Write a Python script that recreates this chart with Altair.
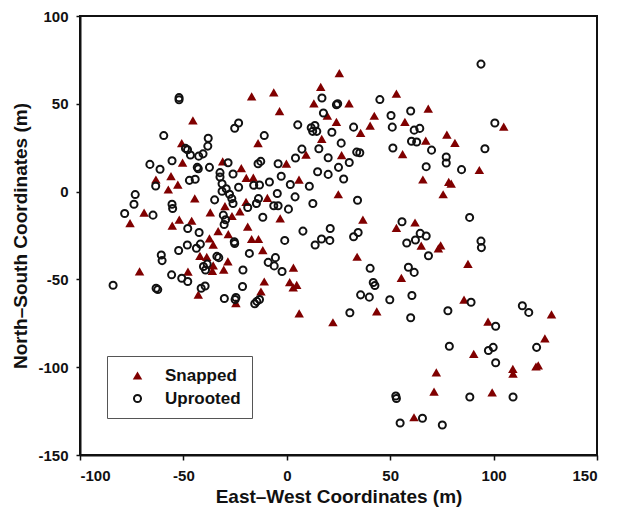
import altair as alt
import pandas as pd

categories = ["Snapped", "Uprooted"]

snapped_x = [25.4, 16.4, -6.3, -17, 53, 13.1, 30.1, 68.4, -3.5, -45.4, 19.6, 24, 42.3, 40.3, 57.1,
             104.9, 35.7, 77.4, -50.8, -13.9, 16.9, 81.3, 67.2, 9.3, 26.5, 56, -50.4, -31, -22, -0.2,
             93.1, -56, -63.3, -52.7, -57.3, -19.6, -16.2, 5.9, 65.8, 78.3, 79.5, 75.6, 24.9, -44.5, -9.4,
             -19.7, -29.9, -69, -75.8, -55.4, -52, -46, -37, -22.7, -26.5, -3.2, 36.8, 53, 62, -18.9,
             -33.2, -17, -13.7, -37.4, -35.6, -28.3, -11.6, 65, 74.4, 73.3, 34, -42, -38.7, -28.5, -35.6,
             -30.5, -36, -71.2, -47.8, 3.2, 87.6, -10.9, 1.4, 3.1, 4.8, 55.4, -12.5, -42.8, -24.6, 6,
             43.5, 85.7, 22.3, 128, 97.3, 124.8, 90.4, 72.3, 109.3, 109.4, 120.5, 121.6, 71.2, 99.3, 61.5]
snapped_y = [67.5, 59.6, 56.5, 54.2, 55.8, 50.2, 50.2, 47.3, 45.8, 40.6, 43.3, 39.7, 43.2, 37.6, 39.7,
             37, 33.5, 32.5, 27.6, 27.6, 30, 27.8, 29, 21, 20.8, 21.3, 16.5, 17.2, 13.4, 15.9,
             12.3, 8.8, 6.9, 4, 1.2, 7.8, 8, 6.8, 6.9, 5.5, 4.5, -1.5, -1.5, -3.8, -3.6,
             -5.9, -8.3, -12, -18, -19.4, -16, -16.6, -11.8, -11.3, -13.9, -15.3, -16, -20.6, -17.6, -20,
             -22.5, -27, -27, -26.6, -30.2, -24.2, -33.3, -30.8, -30.6, -32.3, -37.1, -36.6, -37.2, -39.7, -42,
             -44.4, -45.2, -45.4, -45.6, -43.3, -41.1, -51.2, -51.6, -54.6, -53.1, -49.1, -56.9, -58.7, -63.5, -69.4,
             -68.2, -61.5, -74.4, -69.9, -74, -83.6, -92.4, -103, -101, -103.6, -99.6, -99, -113.9, -114.3, -128.5]

uprooted_x = [93.9, -52.1, -52.1, 17, 45, 24, 24.6, 50.4, 59.9, 17.7, 100.6, -23.3, -25.2, 5.3, 11.8,
              13.6, 14.5, 12.5, 21.8, 32.3, 51, 61.6, 64.3, -59.5, -38, -38.2, -10.9, 26.3, 60.3, 62.8,
              95.8, -49, -48, -46.6, -40.5, -42.6, 7.3, 15.5, 51.3, 70, 33.8, 35.3, -55.5, -66.2, -61.3,
              -43.3, -42.8, -37.4, -28.4, -13.9, -12.6, -4.2, 4.2, 20, 25, 30.2, 67.4, 77.1, 77.1, 84.5,
              14.9, 20, 27.5, -47.1, -44.3, -32.3, -32.3, -26, -23.3, -16, -13.2, -8.4, -2.7, 1.7, 10.9,
              -63.4, -31.3, -31.3, -29.3, -27.7, -26.6, -26, -73.3, -73.9, -78.4, -64.7, -55.5, -55.2, -34.9, -13.7,
              -14.7, -18.9, -11.6, -6.3, -4.2, -4.6, 0.8, 4, 12.6, 34.2, -30.7, -29.6, -30.3, -47.9, -42.4,
              -48.1, -41.8, -43.7, -25.4, -25.2, -1, 7.8, 21, 20.8, 16.8, 13.7, 32.3, 34.5, 55.7, 58,
              62.2, 64.5, 67.4, 68.5, 88.4, 93.9, 94.1, -52.3, -60.7, -60.3, -33.8, -32.9, -18.1, -5.5, -6.1,
              -9, -2.3, -21.2, -40.3, -39.3, -38.5, -55.7, -50.8, -47.9, -84, -63.2, -62.4, -41.4, -39.5, -21.4,
              40.3, 41.8, 42.6, 58.8, 61.6, 35.7, 39.9, 49.8, 60.5, -30.2, -24.6, -25, -15.5, -14.5, -13.2,
              30.5, 59.9, 89.1, 77.9, 113.9, 117, 101, 78.6, 97.5, 99.8, 120.8, 101, 52.7, 53, 88.5,
              109.4, 54.8, 65.6, 75.2]
uprooted_y = [72.6, 53.5, 52.3, 53.3, 52.4, 49.5, 50, 43.3, 45.9, 44.8, 39.1, 39.1, 36.1, 38, 36.4,
              37.6, 34.3, 34.3, 33.8, 36.7, 36.7, 35, 36, 31.9, 30.4, 25.9, 31.9, 27.6, 28.7, 28.2,
              24.4, 24.6, 23.8, 20.8, 21.5, 20.2, 24.2, 24.4, 24.8, 23.6, 22.5, 22.1, 17.6, 15.5, 12.7,
              13.8, 13, 13.8, 16.4, 15.9, 17.2, 15.9, 19.1, 19.3, 13.8, 16.6, 14.2, 19.7, 16.3, 12.5,
              11.3, 9.8, 7.2, 6.4, 7, 10.8, 8.3, 10, 2.5, 3.6, 3.8, 5.5, 8.7, 4, 3,
              3.2, 4.5, 0.2, 1.6, -1.5, -4, -6.8, -1.7, -7.2, -12.5, -13.4, -7.2, -9.6, -4.7, -4,
              -6.8, -9.1, -14.6, -8.1, -8.1, -1.1, -10, -3, -6.8, -4.9, -13.4, -16, -18.7, -21, -23.3,
              -30.4, -29.9, -32.3, -28.6, -29.6, -27.8, -22.5, -21, -27.8, -27, -30.4, -25.7, -23.3, -17.2, -29.3,
              -27.6, -23.8, -25.3, -36.5, -14.7, -28.2, -31.9, -33.5, -36.1, -39.3, -36.9, -37.6, -35.2, -37.6, -42.3,
              -40.3, -45.5, -44.6, -42.7, -44.6, -41.3, -47.4, -49.3, -51.2, -53.3, -55, -55.8, -55, -53.8, -54,
              -43.7, -51.8, -53.5, -43.1, -46, -58.8, -60.1, -61.6, -59.2, -60.9, -60.3, -61.5, -63.9, -62.5, -61.4,
              -69, -71.8, -63, -67.9, -65, -68.8, -76.7, -88.1, -90.5, -88.7, -88.7, -97.5, -116.4, -117.8, -117,
              -117, -131.8, -129.1, -132.9]

x_ticks = [-100, -50, 0, 50, 100, 150]
y_ticks = [-150, -100, -50, 0, 50, 100]

df = pd.DataFrame({
    "x": snapped_x + uprooted_x,
    "y": snapped_y + uprooted_y,
    "type": [categories[0]] * len(snapped_x) + [categories[1]] * len(uprooted_x),
})

FONT = "Liberation Sans"
HYPHEN_LABEL = "replace(datum.label, '\u2212', '-')"

chart = alt.Chart(df).mark_point(strokeWidth=2, opacity=1).encode(
    x=alt.X("x:Q",
            scale=alt.Scale(domain=[-100, 150], nice=False, zero=False),
            axis=alt.Axis(values=x_ticks, title="East–West Coordinates (m)", labelExpr=HYPHEN_LABEL,
                          labelPadding=8, titlePadding=4, tickSize=5)),
    y=alt.Y("y:Q",
            scale=alt.Scale(domain=[-150, 100], nice=False, zero=False),
            axis=alt.Axis(values=y_ticks, title="North–South Coordinates (m)", labelExpr=HYPHEN_LABEL,
                          labelPadding=8, titlePadding=7, tickSize=4)),
    shape=alt.Shape("type:N", scale=alt.Scale(domain=categories, range=["triangle-up", "circle"]),
                    legend=alt.Legend(orient="none", legendX=27, legendY=340, title=None,
                                      strokeColor="#555", fillColor="white", padding=11,
                                      symbolOffset=11, labelOffset=19, rowPadding=5,
                                      labelFont=FONT, labelFontSize=17, labelFontWeight="bold",
                                      labelColor="#111", symbolStrokeWidth=2)),
    fill=alt.Fill("type:N", scale=alt.Scale(domain=categories, range=["#800000", "transparent"])),
    stroke=alt.Stroke("type:N", scale=alt.Scale(domain=categories, range=["transparent", "#111"])),
    size=alt.Size("type:N", scale=alt.Scale(domain=categories, range=[90, 50])),
).properties(
    width=517, height=439,
    autosize=alt.AutoSizeParams(type="none"),
    padding={"left": 72, "top": 8, "right": 10, "bottom": 54},
).configure_view(
    stroke="#111", strokeWidth=2
).configure_axis(
    grid=False, domainColor="#111", domainWidth=2, tickColor="#111", tickWidth=1.5,
    labelFont=FONT, labelFontSize=15, labelFontWeight="bold", labelColor="#111",
    titleFont=FONT, titleFontSize=19, titleFontWeight="bold", titleColor="#111",
)

chart.save("out.html", embed_options={"renderer": "svg", "actions": False})
